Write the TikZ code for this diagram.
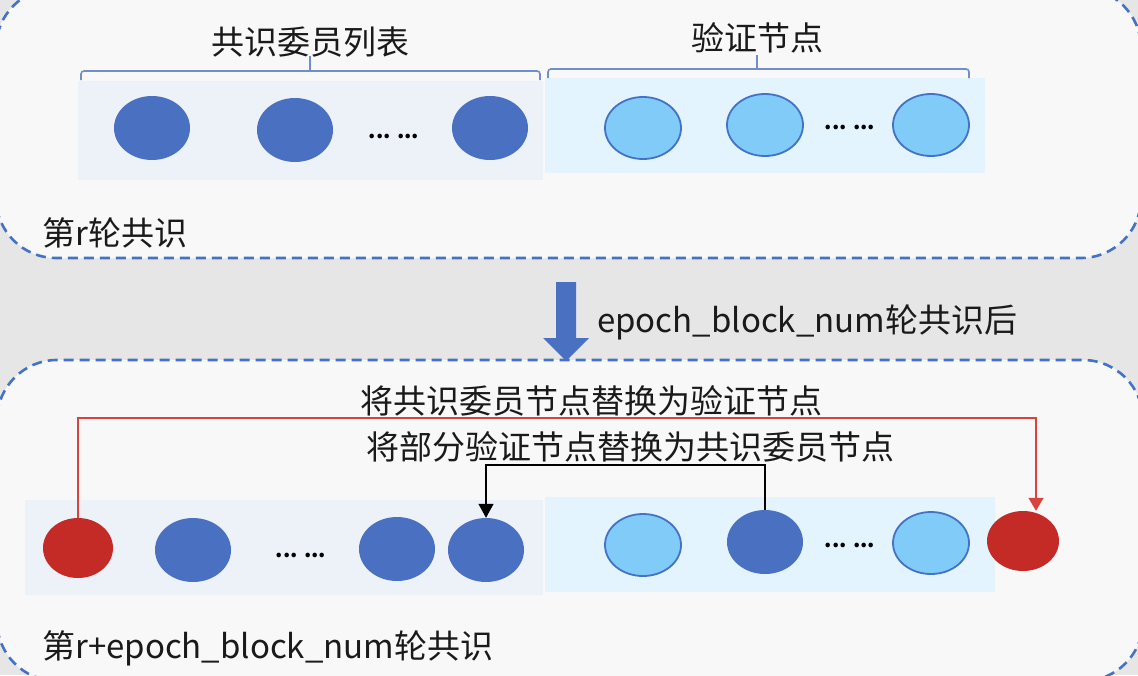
\documentclass[tikz,border=0pt]{standalone}
\usepackage{fontspec}
\setmainfont{Noto Sans CJK SC}
\usetikzlibrary{shapes.geometric,arrows.meta}
\definecolor{bggray}{HTML}{E6E6E6}
\definecolor{boxfill}{HTML}{F8F8F8}
\definecolor{dashblue}{HTML}{4472C4}
\definecolor{panelA}{HTML}{EDF1F8}
\definecolor{panelB}{HTML}{E3F4FE}
\definecolor{darkb}{HTML}{4A70C1}
\definecolor{lightb}{HTML}{80CBF8}
\definecolor{redc}{HTML}{C42B27}
\definecolor{redl}{HTML}{D9423E}
\definecolor{bracec}{HTML}{6E8FCB}
\definecolor{txt}{HTML}{1A1A1A}
\tikzset{
  roundbox/.style={draw=dashblue, fill=boxfill, line width=2.6pt, dash pattern=on 10pt off 6pt, rounded corners=60pt},
  dnode/.style={ellipse, fill=darkb, minimum width=76pt, minimum height=64pt, inner sep=0pt},
  lnode/.style={ellipse, fill=lightb, draw=dashblue, line width=1.8pt, minimum width=76pt, minimum height=62pt, inner sep=0pt},
  rnode/.style={ellipse, fill=redc, minimum width=70pt, minimum height=60pt, inner sep=0pt},
  bigtxt/.style={text=txt, font=\fontsize{33}{39}\selectfont, inner sep=0pt},
  dotstxt/.style={text=black, font=\fontsize{21}{26}\selectfont\bfseries, inner sep=0pt},
  bracepath/.style={draw=bracec, line width=1.6pt, rounded corners=3pt},
}
\begin{document}
\begin{tikzpicture}[x=1pt,y=-1pt]
\useasboundingbox (0,0) rectangle (1138,675);
\begin{scope}
\clip (0,0) rectangle (1138,675);
\fill[bggray] (0,0) rectangle (1138,675);
% top box
\draw[roundbox] (-4,-12) rectangle (1141,258);
% bottom box
\draw[roundbox] (-3,360) rectangle (1143,681);
\end{scope}

% top panels
\fill[panelA] (78,81) rectangle (543,180);
\fill[panelB] (545,78) rectangle (985,173);

% braces
\draw[bracepath] (81,80) -- (81,71) -- (540,71) -- (540,80);
\draw[bracepath] (310,71) -- (310,56);
\draw[bracepath] (548,78) -- (548,69) -- (969,69) -- (969,78);
\draw[bracepath] (757,69) -- (757,55);

\node[bigtxt] (lblA) at (310,42) {共识委员列表};
\node[bigtxt] (lblB) at (757,38) {验证节点};

% top circles
\node[dnode] (t1) at (152,128) {};
\node[dnode] (t2) at (295,130) {};
\node[dotstxt] (tdots1) at (394,136) {... ...};
\node[dnode] (t3) at (490,128) {};
\node[lnode] (t4) at (643,128) {};
\node[lnode] (t5) at (765,125) {};
\node[dotstxt] (tdots2) at (850,127) {... ...};
\node[lnode] (t6) at (931,125) {};

\node[bigtxt, anchor=west] (roundr) at (42,233) {第r轮共识};

% middle arrow
\fill[darkb] (556,282) -- (576,282) -- (576,338) -- (589,338) -- (566,361) -- (543,338) -- (556,338) -- cycle;
\node[bigtxt, anchor=west] (after) at (597,322) {epoch\_block\_num轮共识后};

% bottom panels
\fill[panelA] (25,500) rectangle (543,595);
\fill[panelB] (545,497) rectangle (995,592);

% bottom circles
\node[rnode] (b1) at (78,548) {};
\node[dnode] (b2) at (193,550) {};
\node[dotstxt] (bdots1) at (301,555) {... ...};
\node[dnode] (b3) at (397,549) {};
\node[dnode] (b4) at (486,550) {};
\node[lnode] (b5) at (643,545) {};
\node[dnode] (b6) at (765,542) {};
\node[dotstxt] (bdots2) at (850,545) {... ...};
\node[lnode] (b7) at (931,543) {};
\node[rnode, minimum width=72pt, minimum height=60pt] (b8) at (1023,541) {};

% connectors
\coordinate (redcorner) at (1036,418);
\draw[redl, line width=1.2pt, -{Triangle[length=13pt,width=15pt]}] (b1.north) |- (redcorner) -- (redcorner |- b8.north);
\coordinate (blkcorner) at (486,465);
\draw[black, line width=1.2pt, -{Triangle[length=14pt,width=15pt]}] (b6.north) |- (blkcorner) -- (b4.north);

\node[bigtxt] (lbl1) at (591,401) {将共识委员节点替换为验证节点};
\node[bigtxt] (lbl2) at (630,447) {将部分验证节点替换为共识委员节点};

\node[bigtxt, anchor=west] (roundr2) at (42,648) {第r+epoch\_block\_num轮共识};
\end{tikzpicture}
\end{document}
